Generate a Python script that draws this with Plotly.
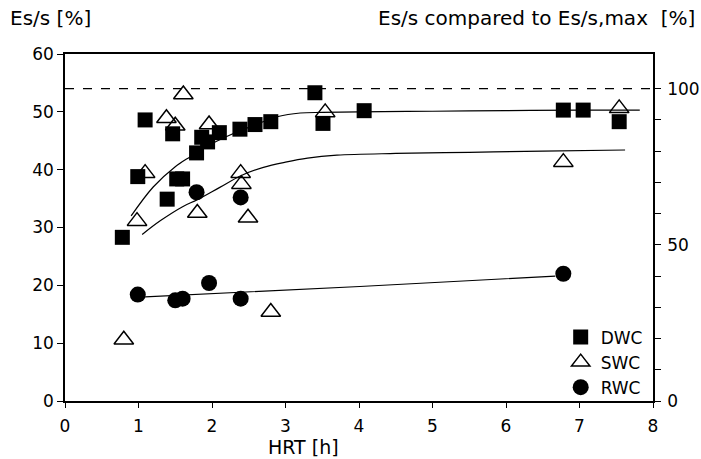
import plotly.graph_objects as go

# ---- data ----
dwc_x = [0.78, 0.99, 1.09, 1.39, 1.465, 1.52, 1.60, 1.79, 1.86, 1.94, 2.10, 2.38, 2.585, 2.80, 3.40, 3.51, 4.07, 6.78, 7.05, 7.54]
dwc_y = [28.3, 38.8, 48.6, 34.9, 46.2, 38.4, 38.4, 42.9, 45.6, 44.8, 46.4, 47.0, 47.8, 48.3, 53.3, 48.0, 50.2, 50.3, 50.3, 48.3]

swc_x = [0.80, 0.98, 1.09, 1.38, 1.50, 1.61, 1.80, 1.96, 2.39, 2.40, 2.49, 2.80, 3.54, 6.78, 7.54]
swc_y = [10.6, 31.1, 39.4, 48.9, 47.6, 53.0, 32.5, 47.8, 39.4, 37.5, 31.7, 15.4, 49.9, 41.3, 50.6]

rwc_x = [0.99, 1.50, 1.60, 1.79, 1.96, 2.39, 2.39, 6.78]
rwc_y = [18.4, 17.4, 17.7, 36.1, 20.4, 35.2, 17.7, 22.0]

# fitted curves
fit_dwc_x = [0.90, 1.20, 1.50, 1.70, 2.00, 2.30, 2.60, 2.90, 3.20, 3.50, 4.00, 5.00, 6.00, 7.00, 7.82]
fit_dwc_y = [32.0, 37.0, 40.5, 42.2, 44.5, 46.3, 47.8, 49.2, 49.8, 49.9, 50.0, 50.1, 50.2, 50.3, 50.3]
fit_swc_x = [1.05, 1.30, 1.60, 1.80, 2.10, 2.40, 2.70, 3.00, 3.30, 3.70, 4.50, 5.50, 6.50, 7.62]
fit_swc_y = [28.8, 31.2, 33.6, 34.8, 36.9, 39.0, 40.4, 41.3, 42.0, 42.5, 42.8, 43.0, 43.2, 43.4]
fit_rwc_x = [1.09, 4.01, 6.67]
fit_rwc_y = [18.0, 19.8, 21.6]

max_line_x = [0, 8]
max_line_y = [54, 54]

x_ticks = [0, 1, 2, 3, 4, 5, 6, 7, 8]
y_ticks = [0, 10, 20, 30, 40, 50, 60]
y2_ticks = [0, 10, 20, 30, 40, 50, 60, 70, 80, 90, 100]
y2_labels = ["0", "", "", "", "", "50", "", "", "", "", "100"]

FONT = "DejaVu Sans"
fig = go.Figure()

fig.add_trace(go.Scatter(x=max_line_x, y=max_line_y, mode="lines",
                         line=dict(color="black", width=1.2, dash="dash"),
                         showlegend=False, hoverinfo="skip"))
for fx, fy in [(fit_dwc_x, fit_dwc_y), (fit_swc_x, fit_swc_y), (fit_rwc_x, fit_rwc_y)]:
    fig.add_trace(go.Scatter(x=fx, y=fy, mode="lines", line=dict(color="black", width=1.2, shape="spline"),
                             showlegend=False, hoverinfo="skip"))

fig.add_trace(go.Scatter(x=swc_x, y=swc_y, mode="markers", name="SWC",
                         marker=dict(symbol="triangle-up-open", size=17, color="black", line=dict(width=1.5))))
fig.add_trace(go.Scatter(x=dwc_x, y=dwc_y, mode="markers", name="DWC",
                         marker=dict(symbol="square", size=15, color="black")))
fig.add_trace(go.Scatter(x=rwc_x, y=rwc_y, mode="markers", name="RWC",
                         marker=dict(symbol="circle", size=16, color="black")))
# invisible trace to enable the right axis
fig.add_trace(go.Scatter(x=[0], y=[0], yaxis="y2", mode="markers", marker=dict(opacity=0),
                         showlegend=False, hoverinfo="skip"))

fig.update_layout(
    width=701, height=459,
    margin=dict(l=65, r=48, t=54, b=58, autoexpand=False),
    paper_bgcolor="white", plot_bgcolor="white",
    font=dict(family=FONT, size=17, color="black"),
    xaxis=dict(range=[0, 8], tickvals=x_ticks, showline=True, linecolor="black", linewidth=1.5,
               mirror=True, ticks="outside", ticklen=5, tickwidth=1.2, tickcolor="black",
               ticklabelstandoff=4, showgrid=False, zeroline=False, automargin=False),
    yaxis=dict(range=[0, 60], tickvals=y_ticks, showline=True, linecolor="black", linewidth=1.5,
               ticks="outside", ticklen=6, tickwidth=1.2, tickcolor="black",
               showgrid=False, zeroline=False, automargin=False),
    yaxis2=dict(range=[0, 60 / 54 * 100], overlaying="y", side="right", tickvals=y2_ticks,
                ticktext=y2_labels, showline=True, linecolor="black", linewidth=1.5,
                ticks="outside", ticklen=6, tickwidth=1.2, tickcolor="black",
                ticklabelstandoff=3, showgrid=False, zeroline=False, automargin=False),
    legend=dict(x=0.843, y=0.235, xanchor="left", yanchor="top", traceorder="normal",
                bgcolor="rgba(0,0,0,0)", font=dict(size=17), itemsizing="trace"),
    annotations=[
        dict(text="Es/s [%]", xref="paper", yref="paper", x=-0.097, y=1.0, yshift=22,
             xanchor="left", yanchor="bottom", showarrow=False, font=dict(size=20)),
        dict(text="Es/s compared to Es/s,max  [%]", xref="paper", yref="paper", x=1.075, y=1.0, yshift=22,
             xanchor="right", yanchor="bottom", showarrow=False, font=dict(size=20)),
        dict(text="HRT [h]", xref="x", yref="paper", x=3.24, y=0, yshift=-33,
             xanchor="center", yanchor="top", showarrow=False, font=dict(size=19)),
    ],
)
# order legend DWC, SWC, RWC
fig.data[5].legendrank = 1
fig.data[4].legendrank = 2
fig.data[6].legendrank = 3

fig.write_html("out.html")
